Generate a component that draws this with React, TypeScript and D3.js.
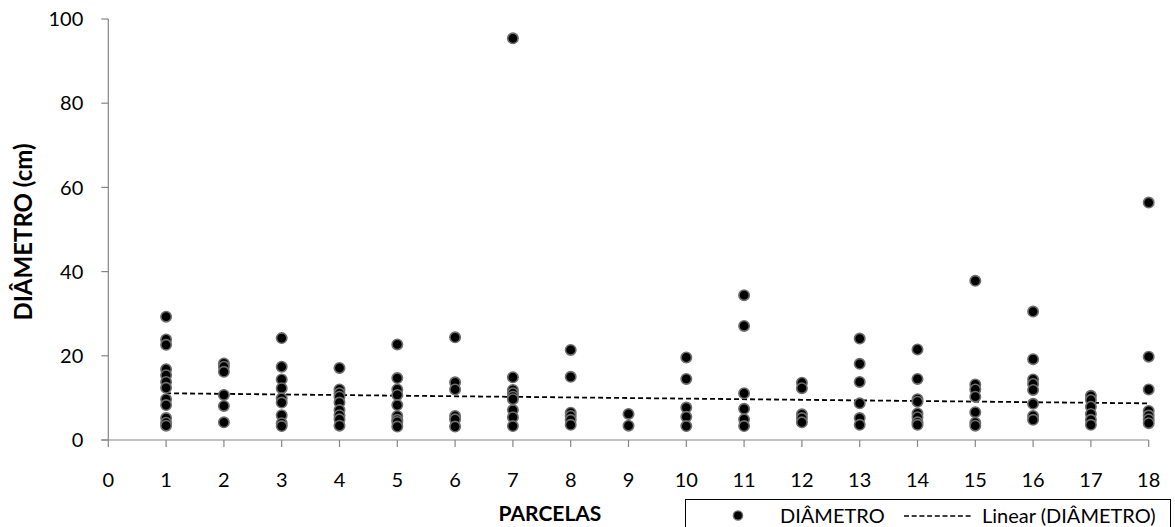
import React from "react";
import * as d3 from "d3";

const parcelas = [1, 2, 3, 4, 5, 6, 7, 8, 9, 10, 11, 12, 13, 14, 15, 16, 17, 18];
const diametros: number[][] = [
  [29.3, 23.9, 22.6, 16.8, 15.4, 13.8, 12.4, 9.7, 8.3, 5.2, 4.1, 3.4],
  [18.2, 17.4, 16.2, 10.7, 8.1, 4.2],
  [24.2, 17.4, 14.4, 12.3, 9.9, 8.9, 5.9, 4.0, 3.3],
  [17.1, 12.0, 11.1, 10.3, 8.9, 7.1, 5.9, 4.9, 3.4],
  [22.7, 14.7, 12.0, 10.7, 8.3, 5.7, 4.8, 4.3, 3.2],
  [24.4, 13.7, 12.0, 5.7, 4.9, 3.2],
  [95.4, 14.9, 11.9, 11.1, 10.3, 9.7, 7.1, 5.4, 3.3],
  [21.4, 15.0, 6.5, 5.7, 4.8, 3.6],
  [6.2, 3.4],
  [19.6, 14.5, 7.7, 5.5, 3.3],
  [34.4, 27.1, 11.1, 7.4, 4.9, 3.3],
  [13.6, 12.3, 6.1, 5.2, 4.2],
  [24.1, 18.1, 13.8, 8.7, 5.2, 3.6],
  [21.5, 14.5, 9.7, 9.1, 6.3, 5.4, 4.2, 3.6],
  [37.8, 13.2, 12.0, 10.3, 6.6, 4.1, 3.4],
  [30.5, 19.2, 14.4, 13.3, 11.9, 8.6, 5.7, 4.8],
  [10.5, 9.5, 7.9, 6.2, 4.8, 3.6],
  [56.4, 19.8, 12.0, 6.9, 5.8, 4.9, 4.0],
];
// Linear trendline as shown in the picture (start and end parcela, value)
const trendParcelas = [1, 18];
const trendValues = [11.1, 8.7];

const xTicks = d3.range(0, 19);
const yTicks = [0, 20, 40, 60, 80, 100];

const seriesName = "DIÂMETRO";
const trendName = "Linear (DIÂMETRO)";
const xTitle = "PARCELAS";
const yTitle = "DIÂMETRO (cm)";

const W = 1175;
const H = 527;
const FONT = "Lato, 'Liberation Sans', sans-serif";

export default function App() {
  const x = d3.scaleLinear().domain([0, 18]).range([108.3, 1148.7]);
  const y = d3.scaleLinear().domain([0, 100]).range([440, 19]);

  const points = parcelas.flatMap((p, i) => diametros[i].map((v) => ({ p, v })));
  const trend = trendParcelas.map((p, i) => ({ p, v: trendValues[i] }));
  const line = d3
    .line<{ p: number; v: number }>()
    .x((d) => x(d.p))
    .y((d) => y(d.v));

  const axisColor = "#868686";
  const x0 = x(0);
  const y0 = y(0);

  return (
    <svg
      width={W}
      height={H}
      style={{ position: "absolute", left: 0, top: 0, background: "#fff" }}
      fontFamily={FONT}
    >
      {/* y axis */}
      <line x1={x0} x2={x0} y1={y(100)} y2={y0} stroke={axisColor} strokeWidth={1.2} />
      {yTicks.map((t) => (
        <g key={"y" + t}>
          <line x1={x0 - 7} x2={x0} y1={y(t)} y2={y(t)} stroke={axisColor} strokeWidth={1.2} />
          <text x={x0 - 25} y={y(t)} dy="0.36em" textAnchor="end" fontSize={20} fill="#000">
            {t}
          </text>
        </g>
      ))}
      {/* x axis */}
      <line x1={x0 - 7} x2={x(18)} y1={y0} y2={y0} stroke={axisColor} strokeWidth={1.2} />
      {xTicks.map((t) => (
        <g key={"x" + t}>
          <line x1={x(t)} x2={x(t)} y1={y0} y2={y0 + 7} stroke={axisColor} strokeWidth={1.2} />
          <text x={x(t)} y={479.5} dy="0.36em" textAnchor="middle" fontSize={20} fill="#000">
            {t}
          </text>
        </g>
      ))}
      {/* trend line */}
      <path d={line(trend)!} fill="none" stroke="#000" strokeWidth={1.8} strokeDasharray="5,3" />
      {/* points */}
      {points.map((d, i) => (
        <circle
          key={i}
          cx={x(d.p)}
          cy={y(d.v)}
          r={5.2}
          fill="#000"
          stroke="#6e6e6e"
          strokeWidth={1.6}
        />
      ))}
      {/* axis titles */}
      <text x={550} y={513} dy="0.36em" textAnchor="middle" fontSize={21} fontWeight="bold">
        {xTitle}
      </text>
      <text
        transform={`translate(23,232) rotate(-90)`}
        dy="0.36em"
        textAnchor="middle"
        fontSize={24}
        fontWeight="bold"
      >
        {yTitle}
      </text>
      {/* legend */}
      <rect x={685.5} y={499.5} width={485} height={40} fill="#fff" stroke="#000" strokeWidth={1} />
      <circle cx={738} cy={515.5} r={4.6} fill="#000" stroke="#6e6e6e" strokeWidth={1.4} />
      <text x={780} y={515.5} dy="0.36em" fontSize={20}>
        {seriesName}
      </text>
      <line x1={904} x2={973} y1={516} y2={516} stroke="#000" strokeWidth={1.3} strokeDasharray="5,2.7" />
      <text x={982} y={515.5} dy="0.36em" fontSize={20}>
        {trendName}
      </text>
    </svg>
  );
}
